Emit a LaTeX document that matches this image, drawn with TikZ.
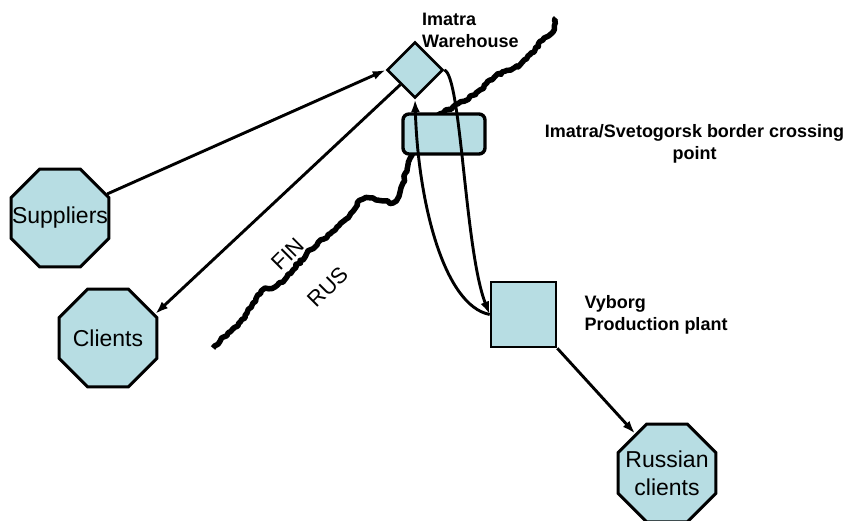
\documentclass[tikz,border=0pt]{standalone}
\usepackage{fontspec}
\setmainfont{Liberation Sans}
\usepackage{xcolor}
\usetikzlibrary{arrows.meta,positioning,shapes.geometric,decorations.pathmorphing}
\definecolor{paleteal}{HTML}{B7DDE3}
\tikzset{
  sitebox/.style={
    regular polygon,regular polygon sides=8,draw=black,fill=paleteal,
    line width=3pt,minimum size=106pt,inner sep=0pt
  },
  sitetext/.style={inner sep=0pt,align=center,font=\fontsize{23}{28}\selectfont},
  depotbox/.style={
    diamond,draw=black,fill=paleteal,line width=2.6pt,
    minimum width=56pt,minimum height=56pt,inner sep=0pt
  },
  plantbox/.style={
    rectangle,draw=black,fill=paleteal,line width=2.6pt,
    minimum size=65pt,inner sep=0pt
  },
  crossbox/.style={
    rectangle,rounded corners=6pt,draw=black,fill=paleteal,
    line width=3.4pt,minimum width=82pt,minimum height=40pt,inner sep=0pt
  },
  placelabel/.style={inner sep=0pt,align=left,font=\bfseries\fontsize{18}{22}\selectfont},
  sidelabel/.style={inner sep=0pt,rotate=45,font=\fontsize{22}{24}\selectfont},
  flow/.style={-{Latex[length=13pt,width=9pt]},draw=black,line width=2.9pt},
  borderline/.style={
    draw=black,line width=5.5pt,line join=round,decorate,
    decoration={random steps,segment length=3pt,amplitude=1.4pt}
  }
}

\begin{document}
\begin{tikzpicture}[x=1pt,y=-1pt]
\useasboundingbox (0,0) rectangle (853,520);
\pgfmathsetseed{7}

% FIN / RUS border
\draw[borderline] (213,348) -- (230,332) -- (245,318) -- (253,303) -- (265,288)
  -- (275,287) -- (283,282) -- (293,270) -- (307,253) -- (317,245) -- (337,227)
  -- (350,215) -- (357,203) -- (363,199) -- (373,198) -- (385,201) -- (393,203)
  -- (398,198) -- (403,183) -- (407,170) -- (412,155) -- (420,135) -- (435,118)
  -- (443,113) -- (453,107) -- (467,100) -- (480,90) -- (490,80) -- (502,72)
  -- (518,67) -- (530,55) -- (543,40) -- (553,32) -- (556,18);

\node[sidelabel] (fin) at (288,254) {FIN};
\node[sidelabel] (rus) at (328,287) {RUS};

\node[depotbox] (warehouse) at (415,70) {};
\node[crossbox] (crossing) at (444,134) {};
\node[plantbox] (plant) at (523.5,314.5) {};
\node[sitebox,label={[sitetext]center:Suppliers}] (suppliers) at (60,218) {};
\node[sitebox,label={[sitetext]center:Clients}] (clients) at (108,338) {};
\node[sitebox,label={[sitetext]center:Russian\\clients}] (russian) at (667,473) {};

\node[placelabel,anchor=west] (whlabel) at (422,30.5) {Imatra\\Warehouse};
\node[placelabel,align=center] (crosslabel) at (694.5,143.5)
  {Imatra/Svetogorsk border crossing\\point};
\node[placelabel,right=27pt of plant] (plantlabel) {Vyborg\\Production plant};

\draw[flow] (suppliers.27) -- (warehouse.west);
\draw[flow] (warehouse.south west) -- (clients.27);
\draw[flow] (warehouse.east) .. controls +(17,5) and +(-25,-64) .. (plant.west);
\draw[flow] (plant.west) .. controls +(-46,-9) and +(3,102) .. (warehouse.south);
\draw[flow] (plant.south east) -- (russian.129);
\end{tikzpicture}
\end{document}
